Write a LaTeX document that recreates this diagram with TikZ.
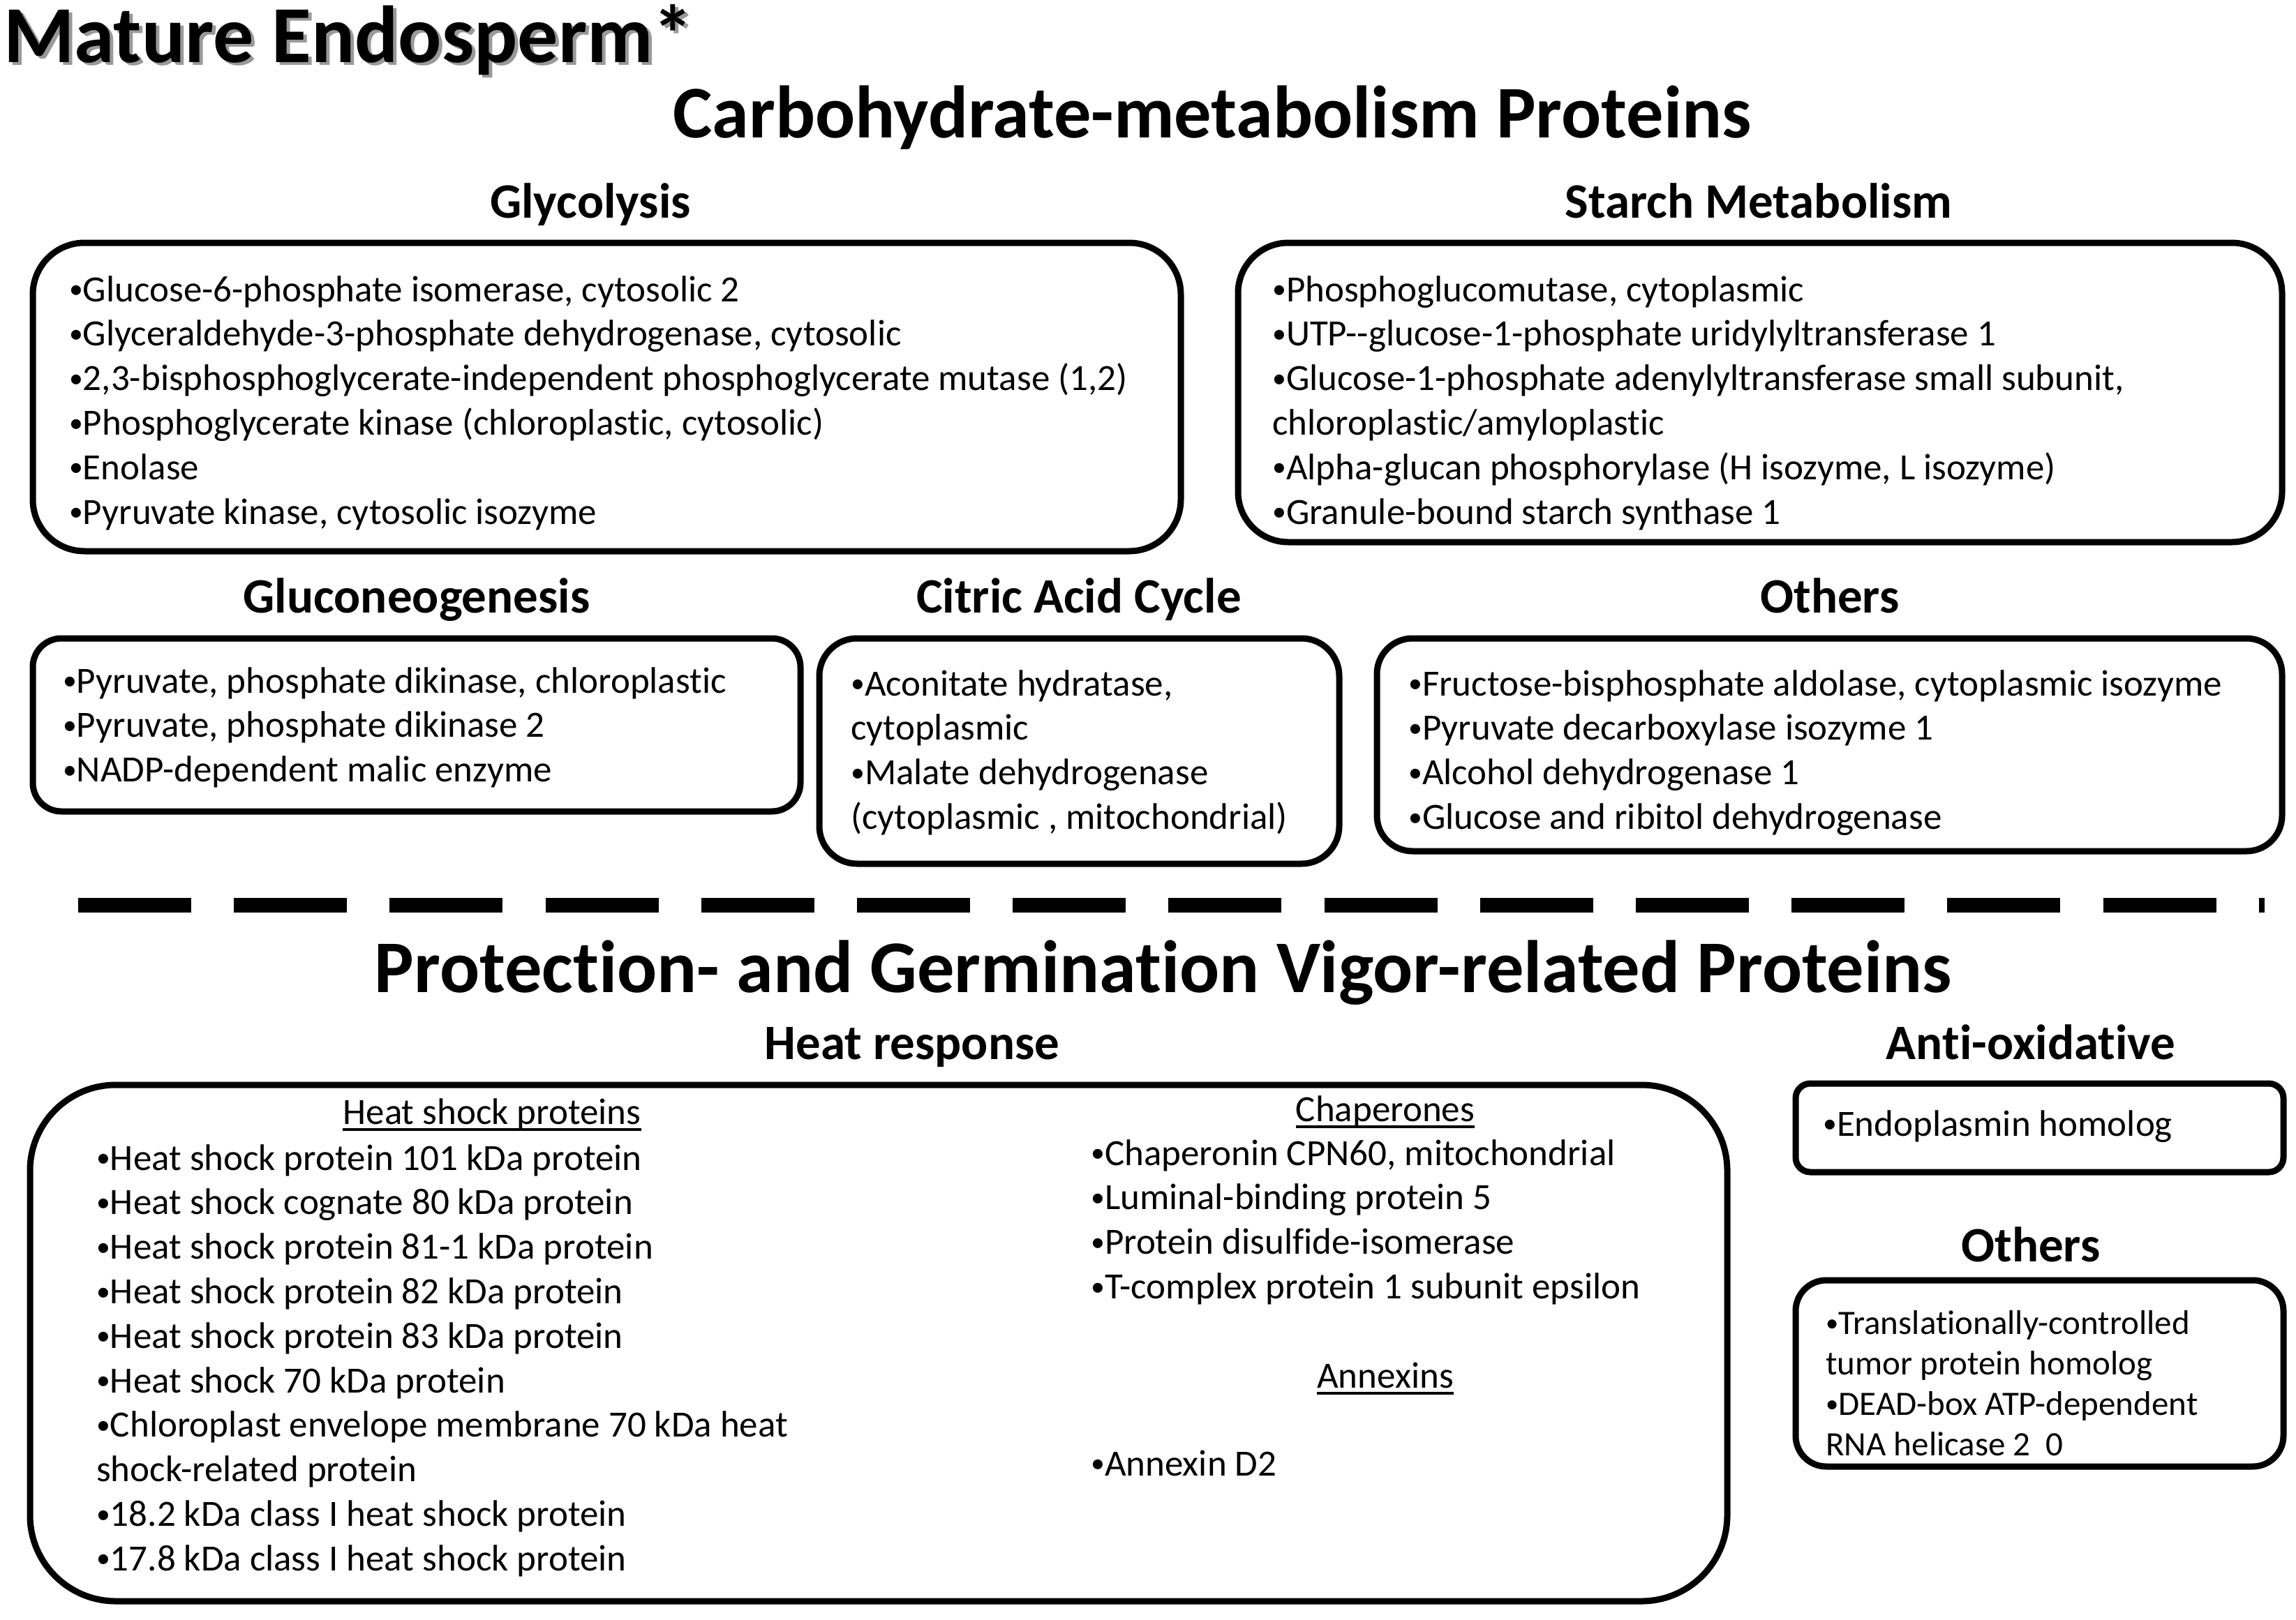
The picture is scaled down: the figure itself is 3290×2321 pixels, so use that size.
\documentclass[tikz,border=0pt]{standalone}
\usepackage{fontspec}
\setmainfont{Carlito}[Ligatures=NoCommon]
\newcommand\itemlines[5]{%
  \foreach \t [count=\i] in {#5} {\node[txt] (#1\i) at (#2,{#3+(\i-1)*#4}) {\t};}}
\newcommand\bul{\raisebox{0.08em}{\scalebox{0.75}{•}}}
\begin{document}
\begin{tikzpicture}[x=1pt,y=-1pt,
  box/.style={draw=black, line width=9pt, inner sep=0pt, fill=none},
  txt/.style={inner sep=0pt, anchor=base west, font=\fontsize{53}{63.8}\selectfont},
  smalltxt/.style={inner sep=0pt, anchor=base west, font=\fontsize{49}{58.3}\selectfont},
  subhead/.style={inner sep=0pt, anchor=base, font=\fontsize{71}{80}\selectfont\bfseries},
  mainhead/.style={inner sep=0pt, anchor=base, font=\fontsize{106.5}{120}\selectfont\bfseries},
  titlefont/.style={inner sep=0pt, anchor=base west, font=\fontsize{116}{130}\selectfont\bfseries},
  ulhead/.style={inner sep=0pt, anchor=base, font=\fontsize{53}{63.8}\selectfont},
  ulline/.style={line width=4pt}
]
\useasboundingbox (0,0) rectangle (3290,2321);

% title with shadow
\node[titlefont, text=black!40] (titleshadow) at (10,93) {Mature Endosperm*};
\node[titlefont] (title) at (5,89) {Mature Endosperm*};

\node[mainhead] (carbhead) at (1737,197) {Carbohydrate-metabolism Proteins};

% subheadings
\node[subhead] (glyhead) at (846,312) {Glycolysis};
\node[subhead] (starchhead) at (2520,312) {Starch Metabolism};
\node[subhead] (gluhead) at (597,878) {Gluconeogenesis};
\node[subhead] (cithead) at (1546,878) {Citric Acid Cycle};
\node[subhead] (othhead) at (2622,878) {Others};

% boxes (carbohydrate)
\node[box, minimum width=1645pt, minimum height=442pt, rounded corners=74pt] (glybox) at (869.5,569) {};
\node[box, minimum width=1496pt, minimum height=429pt, rounded corners=72pt] (starchbox) at (2522,562.5) {};
\node[box, minimum width=1100pt, minimum height=248pt, rounded corners=41pt] (glubox) at (597,1039) {};
\node[box, minimum width=745pt, minimum height=323pt, rounded corners=54pt] (citbox) at (1546.5,1076.5) {};
\node[box, minimum width=1297pt, minimum height=305pt, rounded corners=51pt] (othbox) at (2621.5,1067.5) {};

\itemlines{gly}{99}{432}{63.8}{{\bul Glucose-6-phosphate isomerase, cytosolic 2},{\bul Glyceraldehyde-3-phosphate dehydrogenase, cytosolic},{\bul 2,3-bisphosphoglycerate-independent phosphoglycerate mutase (1,2)},{\bul Phosphoglycerate kinase (chloroplastic, cytosolic)},{\bul Enolase},{\bul Pyruvate kinase, cytosolic isozyme}}

\itemlines{sta}{1823}{432}{63.8}{{\bul Phosphoglucomutase, cytoplasmic},{\bul UTP-\kern0pt-glucose-1-phosphate uridylyltransferase 1},{\bul Glucose-1-phosphate adenylyltransferase small subunit,},{chloroplastic/amyloplastic},{\bul Alpha-glucan phosphorylase (H isozyme, L isozyme)},{\bul Granule-bound starch synthase 1}}

\itemlines{glu}{90}{993}{63.8}{{\bul Pyruvate, phosphate dikinase, chloroplastic},{\bul Pyruvate, phosphate dikinase 2},{\bul NADP-dependent malic enzyme}}

\itemlines{cit}{1219}{997}{63.8}{{\bul Aconitate hydratase,},{cytoplasmic},{\bul Malate dehydrogenase},{(cytoplasmic , mitochondrial)}}

\itemlines{oth}{2018}{997}{63.8}{{\bul Fructose-bisphosphate aldolase, cytoplasmic isozyme},{\bul Pyruvate decarboxylase isozyme 1},{\bul Alcohol dehydrogenase 1},{\bul Glucose and ribitol dehydrogenase}}

% dashed separator
\coordinate (dashL) at (112,1297);
\coordinate (dashR) at (3245,1297);
\draw[line width=21pt, dash pattern=on 162pt off 61.2pt] (dashL) -- (dashR);

\node[mainhead] (prothead) at (1667,1422) {Protection- and Germination Vigor-related Proteins};

\node[subhead] (heathead) at (1307,1518) {Heat response};
\node[subhead] (antihead) at (2910,1518) {Anti-oxidative};
\node[subhead] (oth2head) at (2910,1808) {Others};

\node[box, minimum width=2432pt, minimum height=740pt, rounded corners=123pt] (heatbox) at (1259,1925) {};
\node[box, minimum width=699pt, minimum height=127pt, rounded corners=21pt] (antibox) at (2922.5,1616.5) {};
\node[box, minimum width=699pt, minimum height=267pt, rounded corners=44pt] (oth2box) at (2922.5,1968.5) {};

\node[ulhead] (hsphead) at (705,1611) {Heat shock proteins};
\draw[ulline] ([yshift=-8pt]hsphead.base west) -- ([yshift=-8pt]hsphead.base east);
\node[ulhead] (chaphead) at (1985,1607) {Chaperones};
\draw[ulline] ([yshift=-8pt]chaphead.base west) -- ([yshift=-8pt]chaphead.base east);
\node[ulhead] (annhead) at (1985,1989) {Annexins};
\draw[ulline] ([yshift=-8pt]annhead.base west) -- ([yshift=-8pt]annhead.base east);

\itemlines{hsp}{138}{1677}{63.8}{{\bul Heat shock protein 101 kDa protein},{\bul Heat shock cognate 80 kDa protein},{\bul Heat shock protein 81-1 kDa protein},{\bul Heat shock protein 82 kDa protein},{\bul Heat shock protein 83 kDa protein},{\bul Heat shock 70 kDa protein},{\bul Chloroplast envelope membrane 70 kDa heat},{shock-related protein},{\bul 18.2 kDa class I heat shock protein},{\bul 17.8 kDa class I heat shock protein}}

\itemlines{chap}{1563}{1670}{63.8}{{\bul Chaperonin CPN60, mitochondrial},{\bul Luminal-binding protein 5},{\bul Protein disulfide-isomerase},{\bul T-complex protein 1 subunit epsilon}}

\node[txt] (ann1) at (1563,2115) {\bul Annexin D2};
\node[txt] (anti1) at (2612,1628) {\bul Endoplasmin homolog};

\foreach \t [count=\i] in {{\bul Translationally-controlled},{tumor protein homolog},{\bul DEAD-box ATP-dependent},{RNA helicase 2\ \ 0}}
  {\node[smalltxt] (oo\i) at (2616,{1912+(\i-1)*58.3}) {\t};}
\end{tikzpicture}
\end{document}
